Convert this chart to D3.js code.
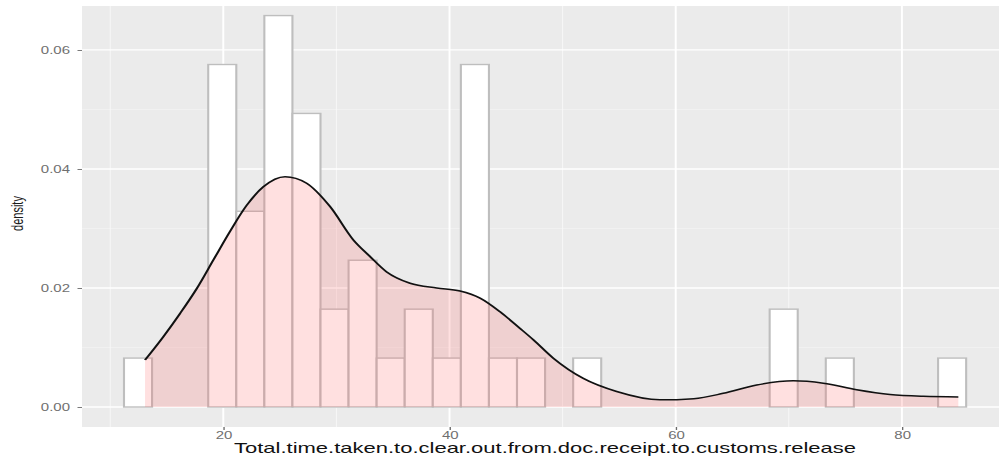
<!DOCTYPE html>
<html>
<head>
<meta charset="utf-8">
<script src="https://cdn.jsdelivr.net/npm/d3@7"></script>
<style>
  body { margin: 0; background: #fff; }
  text { font-family: "Liberation Sans", Arial, sans-serif; }
</style>
</head>
<body>
<script>
// histogram: 30 bins, counts per bin
var nObs = 49;
var binStart = 11.22;
var binWidth = 2.482;
var binCounts = [1, 0, 0, 7, 4, 8, 6, 2, 3, 1, 2, 1, 7, 1, 1, 0, 1, 0, 0, 0, 0, 0, 0, 2, 0, 1, 0, 0, 0, 1];

// density curve
var densX = [13.08, 14.69, 16.17, 17.65, 19.12, 20.59, 22.07, 23.54, 25.46, 27.37, 29.43, 31.49, 32.97, 34.45,
  36.51, 38.87, 40.93, 42.70, 44.47, 46.24, 47.41, 49.18, 51.83, 54.78, 58.61, 61.6, 64.21, 67.16, 70.40,
  73.05, 76.00, 78.95, 81.89, 84.99];
var densY = [0.0079, 0.0118, 0.0157, 0.0199, 0.0247, 0.0295, 0.0339, 0.0370, 0.0387, 0.0376, 0.0337, 0.0281,
  0.0253, 0.0227, 0.0208, 0.0200, 0.0195, 0.0183, 0.0160, 0.0132, 0.0113, 0.0082, 0.0048, 0.0026, 0.0012,
  0.0014, 0.0023, 0.0037, 0.0044, 0.0040, 0.0029, 0.0021, 0.0018, 0.0017];

var xMajor = [20, 40, 60, 80];
var xMinor = [10, 30, 50, 70];
var yMajor = [0, 0.02, 0.04, 0.06];
var yMinor = [0.01, 0.03, 0.05];
var xTitle = "Total.time.taken.to.clear.out.from.doc.receipt.to.customs.release";
var yTitle = "density";

d3main();

function d3main() {
  var W = 999, H = 458;
  var sx = 1.5; // picture is stretched horizontally

  var svg = d3.select('body').append('svg')
    .attr('width', W)
    .attr('height', H);

  var g = svg.append('g').attr('transform', 'scale(' + sx + ',1)');

  var left = 82 / sx, right = 1008 / sx, top = 6, bottom = 427;

  var x = d3.scaleLinear().domain([7.507, 89.38]).range([left, right]);
  var y = d3.scaleLinear().domain([-0.00336, 0.06739]).range([bottom, top]);

  g.append('rect')
    .attr('x', left).attr('y', top)
    .attr('width', right - left).attr('height', bottom - top)
    .attr('fill', '#EBEBEB');

  // minor grid
  g.selectAll('.vminor').data(xMinor).enter().append('line')
    .attr('x1', function(d){ return x(d); }).attr('x2', function(d){ return x(d); })
    .attr('y1', top).attr('y2', bottom)
    .attr('stroke', '#F7F7F7').attr('stroke-width', 0.7);
  g.selectAll('.hminor').data(yMinor).enter().append('line')
    .attr('x1', left).attr('x2', right)
    .attr('y1', function(d){ return y(d); }).attr('y2', function(d){ return y(d); })
    .attr('stroke', '#F7F7F7').attr('stroke-width', 0.7);

  // major grid
  g.selectAll('.vmajor').data(xMajor).enter().append('line')
    .attr('x1', function(d){ return x(d); }).attr('x2', function(d){ return x(d); })
    .attr('y1', top).attr('y2', bottom)
    .attr('stroke', '#fff').attr('stroke-width', 1.3);
  g.selectAll('.hmajor').data(yMajor).enter().append('line')
    .attr('x1', left).attr('x2', right)
    .attr('y1', function(d){ return y(d); }).attr('y2', function(d){ return y(d); })
    .attr('stroke', '#fff').attr('stroke-width', 1.3);

  // histogram bars (density scale)
  var bins = binCounts.map(function(c, i) {
    return { x0: binStart + i * binWidth, x1: binStart + (i + 1) * binWidth, d: c / (nObs * binWidth) };
  }).filter(function(b){ return b.d > 0; });

  g.selectAll('rect.bar').data(bins).enter().append('rect')
    .attr('class', 'bar')
    .attr('x', function(d){ return x(d.x0); })
    .attr('width', function(d){ return x(d.x1) - x(d.x0); })
    .attr('y', function(d){ return y(d.d); })
    .attr('height', function(d){ return y(0) - y(d.d); })
    .attr('fill', '#fff')
    .attr('stroke', '#BEBEBE')
    .attr('stroke-width', 1.4);

  var pts = densX.map(function(v, i){ return [v, densY[i]]; });

  var area = d3.area()
    .x(function(d){ return x(d[0]); })
    .y0(y(0))
    .y1(function(d){ return y(d[1]); })
    .curve(d3.curveMonotoneX);

  g.append('path').datum(pts)
    .attr('d', area)
    .attr('fill', '#FF6666')
    .attr('fill-opacity', 0.2);

  var line = d3.line()
    .x(function(d){ return x(d[0]); })
    .y(function(d){ return y(d[1]); })
    .curve(d3.curveMonotoneX);

  g.append('path').datum(pts)
    .attr('d', line)
    .attr('fill', 'none')
    .attr('stroke', '#111')
    .attr('stroke-width', 1.5);

  // axes
  var yAxis = g.append('g')
    .attr('transform', 'translate(' + left + ',0)')
    .call(d3.axisLeft(y).tickValues(yMajor).tickFormat(d3.format('.2f')).tickSize(3).tickPadding(5));
  var xAxis = g.append('g')
    .attr('transform', 'translate(0,' + bottom + ')')
    .call(d3.axisBottom(x).tickValues(xMajor).tickFormat(d3.format('d')).tickSize(3).tickPadding(1.5));

  [yAxis, xAxis].forEach(function(a) {
    a.select('.domain').remove();
    a.selectAll('.tick line').attr('stroke', '#6b6b6b').attr('stroke-width', 0.9);
    a.selectAll('.tick text')
      .attr('fill', '#6f6f6f')
      .style('font-size', '10px')
      .style('font-family', '"Liberation Sans", Arial, sans-serif');
  });

  g.append('text')
    .attr('x', (left + right) / 2)
    .attr('y', 453)
    .attr('text-anchor', 'middle')
    .attr('fill', '#111')
    .attr('textLength', 622 / sx)
    .attr('lengthAdjust', 'spacingAndGlyphs')
    .style('font-size', '14px')
    .text(xTitle);

  g.append('text')
    .attr('transform', 'translate(' + (23 / sx) + ',' + ((top + bottom) / 2 - 3) + ') rotate(-90)')
    .attr('text-anchor', 'middle')
    .attr('fill', '#1a1a1a')
    .style('font-size', '11px')
    .text(yTitle);
}
</script>
</body>
</html>
